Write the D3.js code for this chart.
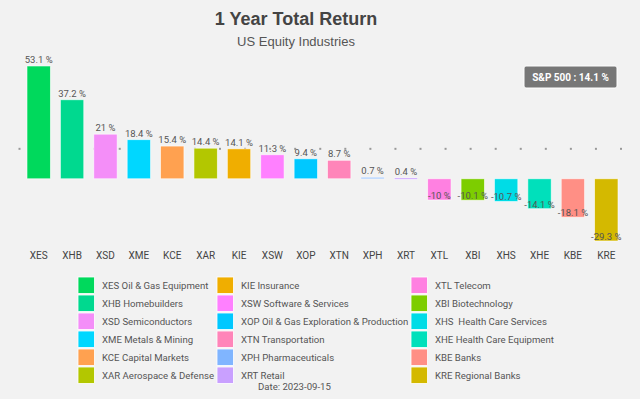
<!DOCTYPE html>
<html>
<head>
<meta charset="utf-8">
<script src="https://cdn.jsdelivr.net/npm/d3@7"></script>
<style>
  body { margin: 0; background: #f2f2f2; }
  svg { display: block; font-family: Roboto, "Liberation Sans", Arial, sans-serif; }
  .title { font-family: "Liberation Sans", Arial, sans-serif; }
  text { white-space: pre; }
</style>
</head>
<body>
<svg id="chart"></svg>
<script>
const tickers = ["XES", "XHB", "XSD", "XME", "KCE", "XAR", "KIE", "XSW", "XOP",
  "XTN", "XPH", "XRT", "XTL", "XBI", "XHS", "XHE", "KBE", "KRE"];
const names = ["XES Oil & Gas Equipment", "XHB Homebuilders", "XSD Semiconductors",
  "XME Metals & Mining", "KCE Capital Markets", "XAR Aerospace & Defense",
  "KIE Insurance", "XSW Software & Services", "XOP Oil & Gas Exploration & Production",
  "XTN Transportation", "XPH Pharmaceuticals", "XRT Retail",
  "XTL Telecom", "XBI Biotechnology", "XHS  Health Care Services",
  "XHE Health Care Equipment", "KBE Banks", "KRE Regional Banks"];
const returns = [53.1, 37.2, 21, 18.4, 15.4, 14.4, 14.1, 11.3, 9.4,
  8.7, 0.7, 0.4, -10, -10.1, -10.7, -14.1, -18.1, -29.3];
const colors = ["#00d95c", "#00d98f", "#f48ef8", "#00d7ff", "#ffa150", "#b3c700",
  "#f0ae00", "#ff80ff", "#00c8ff", "#ff85b9", "#80b5ff", "#c9a0ff",
  "#ff80e1", "#7dcd00", "#00dce6", "#00e0bb", "#ff8f85", "#d4b900"];
const benchmark = 14.1;
const dateLabel = "Date: 2023-09-15";

const width = 640, height = 399;
const svg = d3.select("#chart").attr("width", width).attr("height", height);

const data = tickers.map((t, i) => ({ ticker: t, name: names[i], value: returns[i], color: colors[i] }));

const x = d3.scaleBand().domain(tickers).range([22, 623]).paddingInner(0.3).paddingOuter(0.15);
const y = d3.scaleLinear().domain([-29.3, 53.1]).range([241, 66]);

// title
svg.append("text").attr("class", "title").attr("x", 296).attr("y", 25).attr("text-anchor", "middle")
  .attr("font-size", 18).attr("font-weight", "bold").attr("fill", "#444")
  .text("1 Year Total Return");
svg.append("text").attr("class", "title").attr("x", 296).attr("y", 46).attr("text-anchor", "middle")
  .attr("font-size", 13).attr("fill", "#555")
  .text("US Equity Industries");

// benchmark dotted line
const dots = d3.scaleLinear().domain([0, 24]).range([19.5, 621]);
svg.append("g").selectAll("rect")
  .data(d3.range(25))
  .join("rect")
  .attr("x", i => dots(i) - 1)
  .attr("y", y(benchmark) - 1)
  .attr("width", 2).attr("height", 2)
  .attr("fill", "#999");

// bars
svg.append("g").selectAll("rect")
  .data(data)
  .join("rect")
  .attr("x", d => x(d.ticker))
  .attr("y", d => y(Math.max(0, d.value)))
  .attr("width", x.bandwidth())
  .attr("height", d => Math.max(1.5, Math.abs(y(d.value) - y(0))))
  .attr("fill", d => d.color)
  .attr("stroke", "#fff").attr("stroke-width", 0.8).attr("stroke-opacity", 0.7);

// value labels
svg.append("g").selectAll("text")
  .data(data)
  .join("text")
  .attr("x", d => x(d.ticker) + x.bandwidth() / 2)
  .attr("y", d => d.value >= 0 ? y(d.value) - 3 : y(d.value) - 1)
  .attr("text-anchor", "middle")
  .attr("font-size", 9.5).attr("fill", "#555")
  .text(d => d.value + " %");

// x axis labels
const xAxis = svg.append("g").attr("transform", "translate(0,252)")
  .call(d3.axisBottom(x).tickSize(0).tickPadding(0));
xAxis.select(".domain").remove();
xAxis.selectAll("text").attr("font-size", 10).attr("fill", "#444")
  .attr("font-family", "Roboto, Arial, sans-serif");

// S&P box
const box = svg.append("g").attr("transform", "translate(524,66)");
box.append("rect").attr("width", 93).attr("height", 22).attr("rx", 2)
  .attr("fill", "#777").attr("stroke", "#fff").attr("stroke-width", 1);
box.append("text").attr("x", 46.5).attr("y", 14.5).attr("text-anchor", "middle")
  .attr("font-size", 10).attr("font-weight", "bold").attr("fill", "#fff")
  .text("S&P 500 : " + benchmark + " %");

// legend
const colX = [78, 217, 411];
const legend = svg.append("g").selectAll("g")
  .data(data)
  .join("g")
  .attr("transform", (d, i) => `translate(${colX[Math.floor(i / 6)]},${277 + (i % 6) * 18})`);
legend.append("rect").attr("width", 16.5).attr("height", 16.5)
  .attr("fill", d => d.color).attr("stroke", "#fff").attr("stroke-width", 0.8);
legend.append("text").attr("x", 24).attr("y", 12).attr("font-size", 9.6)
  .attr("fill", "#555").text(d => d.name);

svg.append("text").attr("x", 258).attr("y", 390)
  .attr("font-size", 9.6).attr("fill", "#555").text(dateLabel);
</script>
</body>
</html>
